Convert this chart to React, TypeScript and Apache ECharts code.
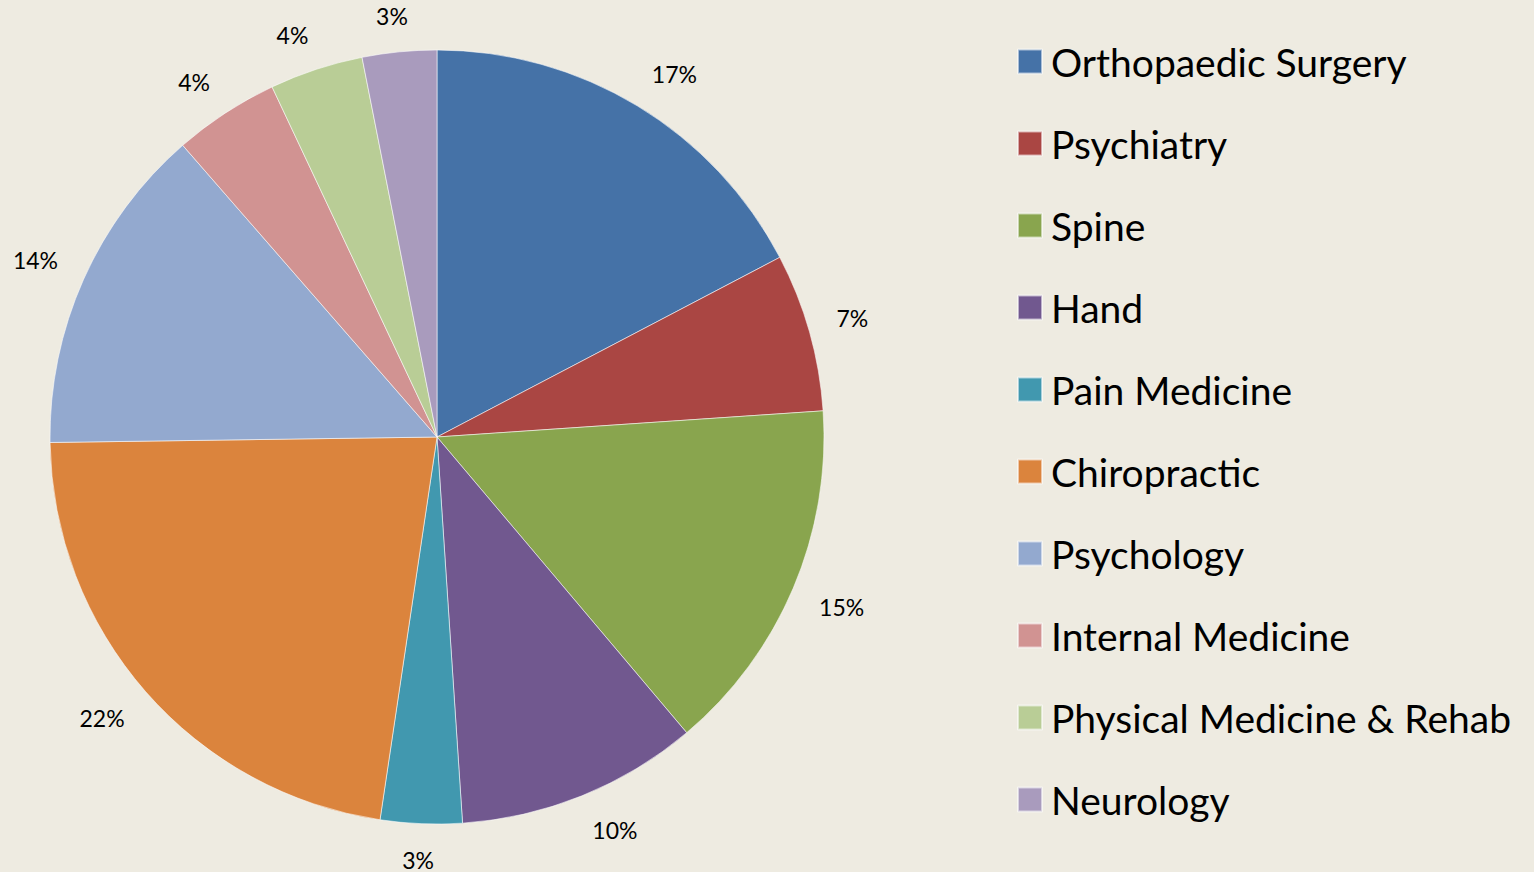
import React, { useEffect, useRef } from "react";
import * as echarts from "echarts";

const categories = [
  "Orthopaedic Surgery",
  "Psychiatry",
  "Spine",
  "Hand",
  "Pain Medicine",
  "Chiropractic",
  "Psychology",
  "Internal Medicine",
  "Physical Medicine & Rehab",
  "Neurology",
];
const values = [17.3, 6.6, 14.9, 10.1, 3.4, 22.4, 13.8, 4.4, 3.9, 3.1];
const colors = [
  "#4572A7",
  "#AA4643",
  "#89A54E",
  "#71588F",
  "#4198AF",
  "#DB843D",
  "#93A9CF",
  "#D19392",
  "#B9CD96",
  "#A99BBD",
];

const total = values.reduce((a, b) => a + b, 0);
const pct = (v: number) => `${Math.round((v / total) * 100)}%`;

const CX = 437;
const CY = 437;
const R = 387;
const LABEL_R = 415;
const LABEL_H = 16;
const clamp1 = (v: number) => Math.max(-1, Math.min(1, v * 3));

export default function App() {
  const ref = useRef<HTMLDivElement>(null);
  useEffect(() => {
    if (!ref.current) return;
    const chart = echarts.init(ref.current, null, { renderer: "svg" });
    const data = categories.map((name, i) => ({
      name,
      value: values[i],
      itemStyle: { color: colors[i] },
    }));
    const midAngles: number[] = [];
    let cum = 0;
    values.forEach((v) => {
      midAngles.push(((cum + v / 2) / total) * Math.PI * 2);
      cum += v;
    });
    chart.setOption({
      animation: false,
      backgroundColor: "#EEEBE1",
      legend: {
        orient: "vertical",
        left: 1012,
        top: 37,
        icon: "rect",
        itemWidth: 24,
        itemHeight: 24,
        itemGap: 43,
        data: categories,
        textStyle: {
          fontFamily: "Lato",
          fontSize: 39,
          color: "#000",
          padding: [0, 0, 0, 4],
        },
      },
      series: [
        {
          type: "pie",
          center: [CX, CY],
          radius: [0, R],
          startAngle: 90,
          clockwise: true,
          silent: true,
          avoidLabelOverlap: false,
          label: {
            show: true,
            position: "outside",
            fontFamily: "Lato",
            fontSize: 23,
            lineHeight: 18,
            color: "#000",
            formatter: (p: any) => pct(p.value),
          },
          labelLine: { show: false },
          labelLayout: (p: any) => {
            const a = midAngles[p.dataIndex];
            const dx = Math.sin(a);
            const dy = -Math.cos(a);
            const w = p.labelRect.width;
            return {
              x: CX + LABEL_R * dx + (clamp1(dx) * w) / 2,
              y: CY + LABEL_R * dy + (clamp1(dy) * LABEL_H) / 2,
              align: "center",
              verticalAlign: "middle",
            };
          },
          itemStyle: { borderColor: "rgba(255,255,255,0.55)", borderWidth: 1 },
          data,
        },
      ],
    });
    return () => chart.dispose();
  }, []);
  return (
    <div
      ref={ref}
      style={{ position: "fixed", left: 0, top: 0, width: 1534, height: 872 }}
    />
  );
}
